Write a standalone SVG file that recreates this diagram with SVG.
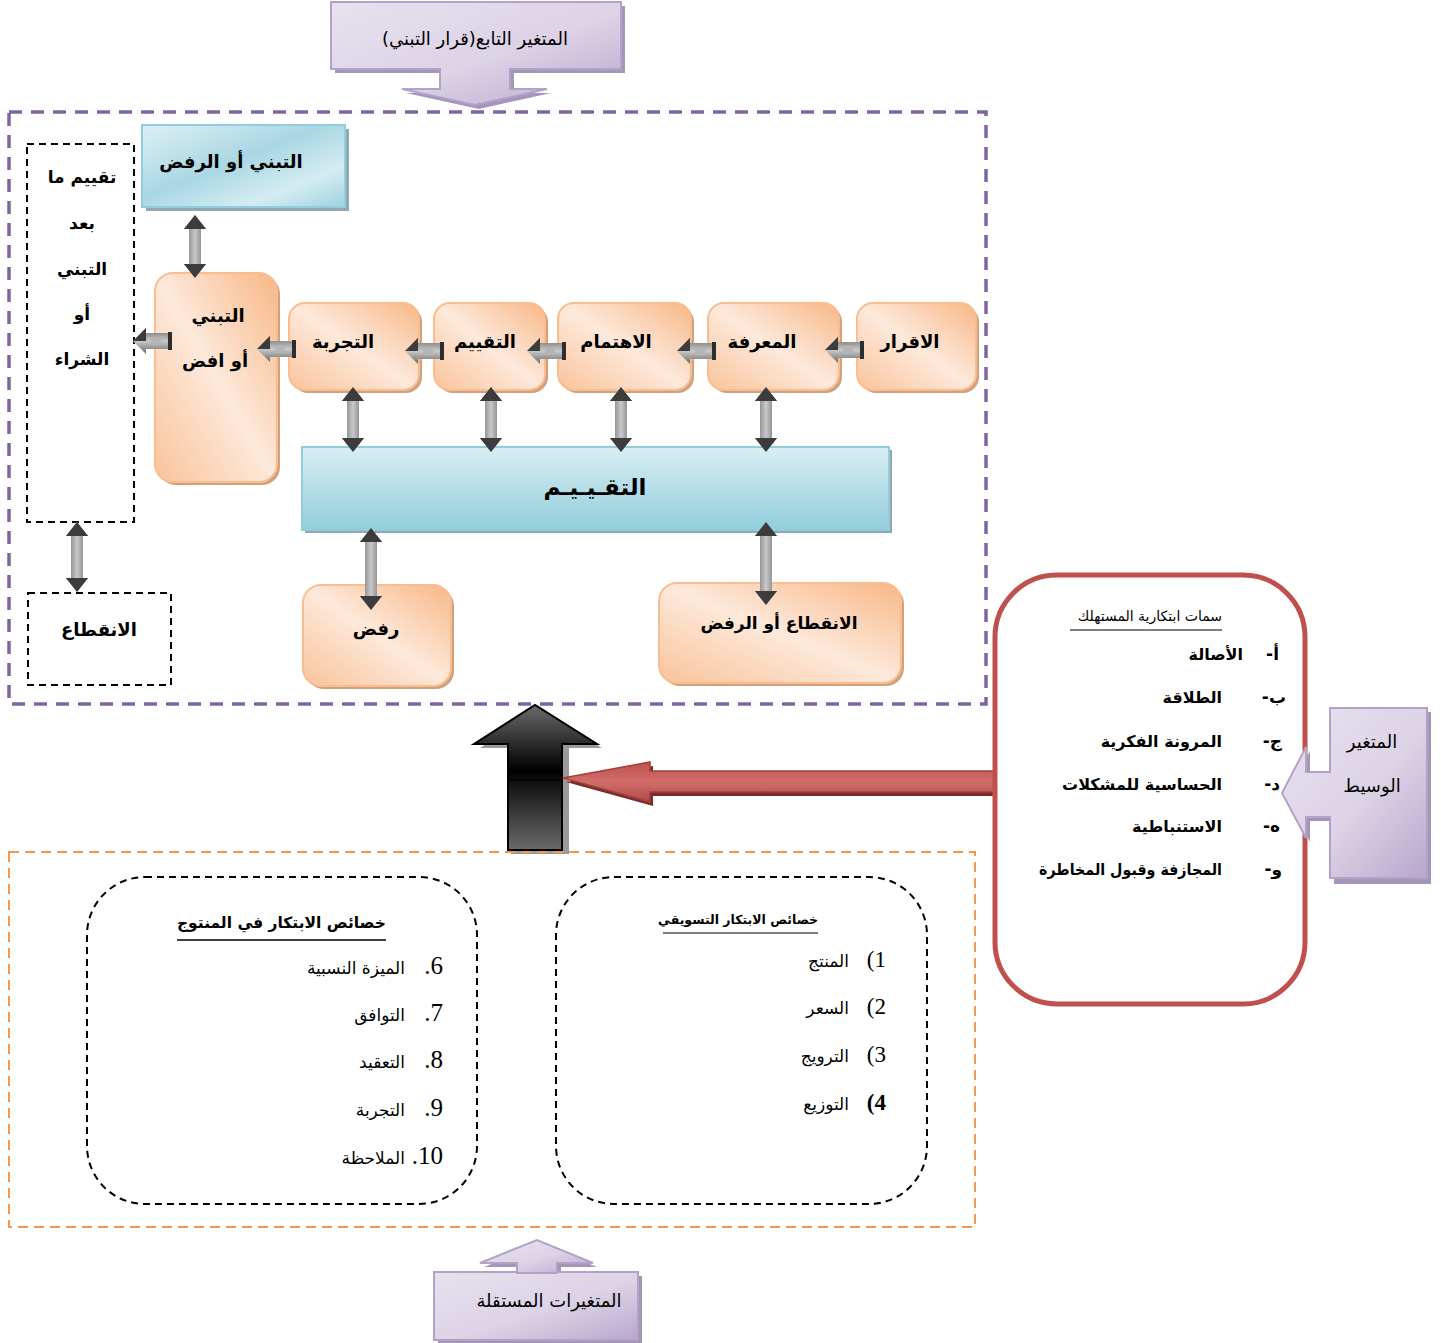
<svg xmlns="http://www.w3.org/2000/svg" width="1441" height="1343" viewBox="0 0 1441 1343">
  <defs>
    <linearGradient id="gOrange" x1="1" y1="0" x2="0" y2="1">
      <stop offset="0" stop-color="#F8B786"/>
      <stop offset="0.5" stop-color="#FDE9DB"/>
      <stop offset="1" stop-color="#F9C39A"/>
    </linearGradient>
    <linearGradient id="gBlue" x1="0" y1="0" x2="1" y2="1">
      <stop offset="0" stop-color="#DDEFF4"/>
      <stop offset="0.45" stop-color="#A9D7E3"/>
      <stop offset="0.75" stop-color="#D4ECF2"/>
      <stop offset="1" stop-color="#9FD2DF"/>
    </linearGradient>
    <linearGradient id="gBar" x1="0" y1="0" x2="0" y2="1">
      <stop offset="0" stop-color="#D9EEF3"/>
      <stop offset="1" stop-color="#92CDDC"/>
    </linearGradient>
    <linearGradient id="gPurple" x1="0" y1="0" x2="1" y2="1">
      <stop offset="0" stop-color="#E7E2EE"/>
      <stop offset="0.55" stop-color="#DCD3E6"/>
      <stop offset="1" stop-color="#B7A7CC"/>
    </linearGradient>
    <linearGradient id="gGrayV" x1="0" y1="0" x2="1" y2="0">
      <stop offset="0" stop-color="#6A6A6A"/>
      <stop offset="0.5" stop-color="#C9C9C9"/>
      <stop offset="1" stop-color="#6A6A6A"/>
    </linearGradient>
    <linearGradient id="gGrayH" x1="0" y1="0" x2="0" y2="1">
      <stop offset="0" stop-color="#6A6A6A"/>
      <stop offset="0.5" stop-color="#C9C9C9"/>
      <stop offset="1" stop-color="#6A6A6A"/>
    </linearGradient>
    <linearGradient id="gHead" x1="0" y1="0" x2="0" y2="1">
      <stop offset="0" stop-color="#2E2E2E"/>
      <stop offset="1" stop-color="#6E6E6E"/>
    </linearGradient>
    <linearGradient id="gBlack" x1="0" y1="0" x2="0" y2="1">
      <stop offset="0" stop-color="#6B6B6B"/>
      <stop offset="0.45" stop-color="#000"/>
      <stop offset="1" stop-color="#6B6B6B"/>
    </linearGradient>
    <linearGradient id="gRed" x1="0" y1="0" x2="0" y2="1">
      <stop offset="0" stop-color="#C0504D"/>
      <stop offset="0.5" stop-color="#D06E6B"/>
      <stop offset="1" stop-color="#B24744"/>
    </linearGradient>
    <!-- small left-pointing block arrow, tip at origin -->
    <g id="harrow">
      <polygon points="0,0 13,-13 13,-8 36,-8 36,8 13,8 13,13" fill="url(#gGrayH)"/>
      <polygon points="0,0 13,-13 13,0" fill="#3C3C3C"/>
      <rect x="35" y="-9" width="4" height="18" fill="#2E2E2E"/>
      <rect x="18" y="-4" width="10" height="8" fill="#B5B5B5"/>
    </g>
    <style>
      .ar { font-family: "DejaVu Sans", sans-serif; fill: #000; direction: rtl; }
      .b { font-weight: bold; }
      .num { font-family: "Liberation Serif", serif; fill: #000; direction: rtl; }
      .obox { fill: url(#gOrange); stroke: #F9BD8F; stroke-width: 2; }
      .oshadow { fill: #D3A07C; }
      .bshadow { fill: #8FA8B2; }
      .pbox { fill: url(#gPurple); stroke: #B3A2C8; stroke-width: 2; }
      .pshadow { fill: #A595B8; }
      .dash { fill: none; stroke: #000; stroke-width: 2; stroke-dasharray: 7 5; }
      .darr { fill: url(#gGrayV); }
      .dhead { fill: #3C3C3C; }
    </style>
  </defs>

  <rect width="1441" height="1343" fill="#fff"/>

  <!-- dependent variable callout (down arrow) -->
  <g id="dependent-callout">
    <path d="M335,6 H625 V73 H514 V93 H551 L479,109 L406,93 H444 V73 H335 Z" class="pshadow"/>
    <path d="M331,2 H621 V69 H510 V89 H547 L475,105 L402,89 H440 V69 H331 Z" class="pbox"/>
    <text x="475" y="45" class="ar" font-size="18" text-anchor="middle">المتغير التابع(قرار التبني)</text>
  </g>

  <!-- adoption process frame -->
  <rect x="9" y="112" width="977" height="592" fill="none" stroke="#8064A2" stroke-width="3.5" stroke-dasharray="13 9"/>

  <g id="adopt-or-reject">
    <rect x="146" y="129" width="203" height="82" class="bshadow"/>
    <rect x="142" y="125" width="203" height="82" fill="url(#gBlue)" stroke="#93CDDD" stroke-width="2"/>
    <text x="231" y="168" class="ar b" font-size="18" text-anchor="middle">التبني أو الرفض</text>
  </g>

  <g id="post-adoption">
    <rect x="27" y="144" width="107" height="378" class="dash"/>
    <text x="82" y="183" class="ar b" font-size="17" text-anchor="middle">تقييم ما</text>
    <text x="82" y="229" class="ar b" font-size="17" text-anchor="middle">بعد</text>
    <text x="82" y="275" class="ar b" font-size="17" text-anchor="middle">التبني</text>
    <text x="82" y="320" class="ar b" font-size="17" text-anchor="middle">أو</text>
    <text x="82" y="365" class="ar b" font-size="17" text-anchor="middle">الشراء</text>
  </g>

  <g id="discontinue">
    <rect x="28" y="593" width="143" height="92" class="dash"/>
    <text x="99" y="636" class="ar b" font-size="18" text-anchor="middle">الانقطاع</text>
  </g>

  <g id="adoption">
    <rect x="158" y="276" width="122" height="209" rx="18" class="oshadow"/>
    <rect x="155" y="273" width="122" height="209" rx="18" class="obox"/>
    <text x="218" y="322" class="ar b" font-size="18" text-anchor="middle">التبني</text>
    <text x="215" y="367" class="ar b" font-size="18" text-anchor="middle">أو افض</text>
  </g>

  <g id="trial">
    <rect x="292" y="306" width="130" height="87" rx="16" class="oshadow"/>
    <rect x="289" y="303" width="130" height="87" rx="16" class="obox"/>
    <text x="343" y="348" class="ar b" font-size="18" text-anchor="middle">التجربة</text>
  </g>

  <g id="evaluation">
    <rect x="437" y="306" width="111" height="87" rx="16" class="oshadow"/>
    <rect x="434" y="303" width="111" height="87" rx="16" class="obox"/>
    <text x="485" y="348" class="ar b" font-size="18" text-anchor="middle">التقييم</text>
  </g>

  <g id="interest">
    <rect x="561" y="306" width="133" height="87" rx="16" class="oshadow"/>
    <rect x="558" y="303" width="133" height="87" rx="16" class="obox"/>
    <text x="616" y="348" class="ar b" font-size="18" text-anchor="middle">الاهتمام</text>
  </g>

  <g id="knowledge">
    <rect x="711" y="306" width="131" height="87" rx="16" class="oshadow"/>
    <rect x="708" y="303" width="131" height="87" rx="16" class="obox"/>
    <text x="762" y="348" class="ar b" font-size="18" text-anchor="middle">المعرفة</text>
  </g>

  <g id="awareness">
    <rect x="860" y="306" width="119" height="87" rx="16" class="oshadow"/>
    <rect x="857" y="303" width="119" height="87" rx="16" class="obox"/>
    <text x="910" y="348" class="ar b" font-size="18" text-anchor="middle">الاقرار</text>
  </g>

  <g id="assessment-bar">
    <rect x="305" y="450" width="587" height="83" class="bshadow"/>
    <rect x="302" y="447" width="587" height="83" fill="url(#gBar)" stroke="#93CDDD" stroke-width="2"/>
    <text x="595" y="495" class="ar b" font-size="23" text-anchor="middle">التقـيـيـم</text>
  </g>

  <g id="rejection">
    <rect x="306" y="588" width="148" height="101" rx="18" class="oshadow"/>
    <rect x="303" y="585" width="148" height="101" rx="18" class="obox"/>
    <text x="376" y="635" class="ar b" font-size="18" text-anchor="middle">رفض</text>
  </g>

  <g id="discontinue-or-reject">
    <rect x="662" y="586" width="242" height="100" rx="18" class="oshadow"/>
    <rect x="659" y="583" width="242" height="100" rx="18" class="obox"/>
    <text x="779" y="629" class="ar b" font-size="17" text-anchor="middle">الانقطاع أو الرفض</text>
  </g>

  <!-- connectors -->
  <g id="connectors">
    <use href="#harrow" x="825" y="350"/>
    <use href="#harrow" x="677" y="351"/>
    <use href="#harrow" x="527" y="351"/>
    <use href="#harrow" x="405" y="351"/>
    <use href="#harrow" x="257" y="349"/>
    <use href="#harrow" x="133" y="341"/>

    <path class="darr" d="M195,215 L206,229 H201 V264 H206 L195,278 L184,264 H189 V229 H184 Z"/>
    <path class="dhead" d="M195,215 L206,229 H184 Z M184,264 H206 L195,278 Z"/>

    <path class="darr" d="M353,387 L364,401 H359 V438 H364 L353,452 L342,438 H347 V401 H342 Z"/>
    <path class="dhead" d="M353,387 L364,401 H342 Z M342,438 H364 L353,452 Z"/>

    <path class="darr" d="M491,387 L502,401 H497 V438 H502 L491,452 L480,438 H485 V401 H480 Z"/>
    <path class="dhead" d="M491,387 L502,401 H480 Z M480,438 H502 L491,452 Z"/>

    <path class="darr" d="M621,387 L632,401 H627 V438 H632 L621,452 L610,438 H615 V401 H610 Z"/>
    <path class="dhead" d="M621,387 L632,401 H610 Z M610,438 H632 L621,452 Z"/>

    <path class="darr" d="M766,387 L777,401 H772 V438 H777 L766,452 L755,438 H760 V401 H755 Z"/>
    <path class="dhead" d="M766,387 L777,401 H755 Z M755,438 H777 L766,452 Z"/>

    <path class="darr" d="M371,528 L382,542 H377 V596 H382 L371,610 L360,596 H365 V542 H360 Z"/>
    <path class="dhead" d="M371,528 L382,542 H360 Z M360,596 H382 L371,610 Z"/>

    <path class="darr" d="M766,522 L777,536 H772 V591 H777 L766,605 L755,591 H760 V536 H755 Z"/>
    <path class="dhead" d="M766,522 L777,536 H755 Z M755,591 H777 L766,605 Z"/>

    <path class="darr" d="M77,522 L88,536 H83 V578 H88 L77,592 L66,578 H71 V536 H66 Z"/>
    <path class="dhead" d="M77,522 L88,536 H66 Z M66,578 H88 L77,592 Z"/>

    <!-- main upward influence arrow -->
    <path d="M508,744 H477 L537,707 L599,744 H566 V850 H508 Z" fill="#9A9A9A" transform="translate(3,4)"/>
    <path d="M508,744 H474 L535,705 L597,744 H562 V850 H508 Z" fill="url(#gBlack)" stroke="#000" stroke-width="2"/>
    <line x1="508" y1="780" x2="562" y2="780" stroke="#000" stroke-width="1.5"/>

    <!-- moderator arrow -->
    <path d="M565,780 L652,764 V773 H998 V794 H652 V804 Z" fill="#7A2E2C" transform="translate(1,2)"/>
    <path d="M563,778 L650,762 V771 H996 V792 H650 V802 Z" fill="url(#gRed)" stroke="#A43F3C" stroke-width="1.5"/>
  </g>

  <!-- consumer innovativeness traits -->
  <g id="consumer-traits">
    <rect x="995" y="575" width="310" height="429" rx="62" fill="#fff" stroke="#C0504D" stroke-width="5"/>
    <text x="1222" y="621" class="ar" font-size="14" text-anchor="start">سمات ابتكارية المستهلك</text>
    <line x1="1070" y1="630" x2="1222" y2="630" stroke="#000" stroke-width="1"/>
    <text x="1279" y="660" class="ar b" font-size="17" text-anchor="start">أ-</text>
    <text x="1243" y="660" class="ar b" font-size="16" text-anchor="start">الأصالة</text>
    <text x="1286" y="703" class="ar b" font-size="17" text-anchor="start">ب-</text>
    <text x="1222" y="703" class="ar b" font-size="16" text-anchor="start">الطلاقة</text>
    <text x="1282" y="747" class="ar b" font-size="17" text-anchor="start">ج-</text>
    <text x="1222" y="747" class="ar b" font-size="16" text-anchor="start">المرونة الفكرية</text>
    <text x="1280" y="790" class="ar b" font-size="17" text-anchor="start">د-</text>
    <text x="1222" y="790" class="ar b" font-size="16" text-anchor="start">الحساسية للمشكلات</text>
    <text x="1280" y="832" class="ar b" font-size="17" text-anchor="start">ه-</text>
    <text x="1222" y="832" class="ar b" font-size="16" text-anchor="start">الاستنباطية</text>
    <text x="1282" y="875" class="ar b" font-size="17" text-anchor="start">و-</text>
    <text x="1222" y="875" class="ar b" font-size="16" text-anchor="start" textLength="183" lengthAdjust="spacingAndGlyphs">المجازفة وقبول المخاطرة</text>
  </g>

  <!-- moderating variable callout (left arrow) -->
  <g id="moderator-callout">
    <path d="M1334,712 H1431 V884 H1334 V821 H1310 V842 L1286,796 L1310,751 V776 H1334 Z" class="pshadow"/>
    <path d="M1330,708 H1427 V878 H1330 V817 H1306 V838 L1282,793 L1306,747 V772 H1330 Z" class="pbox"/>
    <text x="1372" y="748" class="ar" font-size="18" text-anchor="middle">المتغير</text>
    <text x="1372" y="792" class="ar" font-size="18" text-anchor="middle">الوسيط</text>
  </g>

  <!-- independent variables frame -->
  <rect x="9" y="852" width="966" height="375" fill="none" stroke="#F79646" stroke-width="2" stroke-dasharray="10 6"/>

  <g id="product-innovation">
    <rect x="87" y="877" width="390" height="327" rx="58" class="dash" stroke-dasharray="12 8"/>
    <text x="386" y="928" class="ar b" font-size="15.5" text-anchor="start">خصائص الابتكار في المنتوج</text>
    <line x1="177" y1="940" x2="386" y2="940" stroke="#000" stroke-width="1.5"/>
    <text x="443" y="974" class="num" font-size="25" text-anchor="start">6.</text>
    <text x="405" y="974" class="ar" font-size="17" text-anchor="start">الميزة النسبية</text>
    <text x="443" y="1021" class="num" font-size="25" text-anchor="start">7.</text>
    <text x="405" y="1021" class="ar" font-size="17" text-anchor="start">التوافق</text>
    <text x="443" y="1068" class="num" font-size="25" text-anchor="start">8.</text>
    <text x="405" y="1068" class="ar" font-size="17" text-anchor="start">التعقيد</text>
    <text x="443" y="1116" class="num" font-size="25" text-anchor="start">9.</text>
    <text x="405" y="1116" class="ar" font-size="17" text-anchor="start">التجربة</text>
    <text x="443" y="1164" class="num" font-size="25" text-anchor="start">10.</text>
    <text x="405" y="1164" class="ar" font-size="17" text-anchor="start">الملاحظة</text>
  </g>

  <g id="marketing-innovation">
    <rect x="556" y="877" width="371" height="327" rx="58" class="dash" stroke-dasharray="12 8"/>
    <text x="818" y="924" class="ar b" font-size="12.5" text-anchor="start">خصائص الابتكار التسويقي</text>
    <line x1="663" y1="933" x2="818" y2="933" stroke="#000" stroke-width="1"/>
    <text x="886" y="967" class="num" font-size="23" text-anchor="start">1)</text>
    <text x="849" y="967" class="ar" font-size="17" text-anchor="start">المنتج</text>
    <text x="886" y="1014" class="num" font-size="23" text-anchor="start">2)</text>
    <text x="849" y="1014" class="ar" font-size="17" text-anchor="start">السعر</text>
    <text x="886" y="1062" class="num" font-size="23" text-anchor="start">3)</text>
    <text x="849" y="1062" class="ar" font-size="17" text-anchor="start">الترويج</text>
    <text x="886" y="1110" class="num" font-size="23" font-weight="bold" text-anchor="start">4)</text>
    <text x="849" y="1110" class="ar" font-size="17" text-anchor="start">التوزيع</text>
  </g>

  <!-- independent variables callout (up arrow) -->
  <g id="independent-callout">
    <path d="M438,1276 H642 V1344 H438 Z M521,1276 V1267 H484 L541,1244 L597,1267 H561 V1276 Z" class="pshadow"/>
    <path d="M434,1272 H638 V1340 H434 Z" class="pbox"/>
    <path d="M517,1273 V1263 H480 L537,1240 L593,1263 H557 V1273 Z" class="pbox"/>
    <text x="549" y="1307" class="ar" font-size="18" text-anchor="middle">المتغيرات المستقلة</text>
  </g>
</svg>
